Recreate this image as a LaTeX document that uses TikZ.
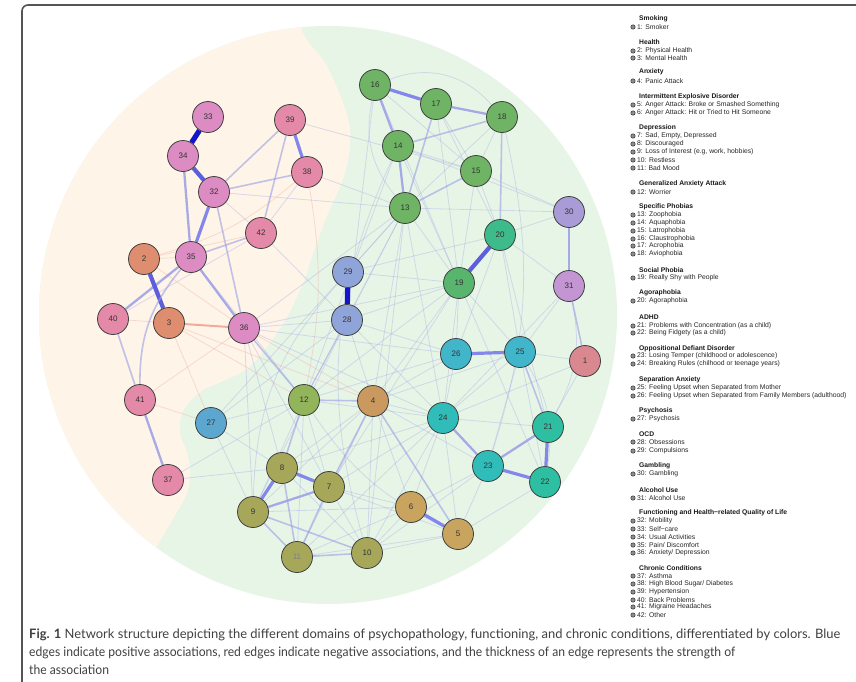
\documentclass[tikz,border=0pt]{standalone}
\usepackage{fontspec}
\setmainfont{Liberation Sans}
\newfontfamily\capfont{Lato}
\usepackage{graphicx}
\pgfdeclarelayer{bgzero}
\pgfdeclarelayer{edgelayer}
\pgfsetlayers{bgzero,edgelayer,main}
\definecolor{bgorange}{HTML}{FEF4E8}
\definecolor{bggreen}{HTML}{E7F5E7}
\definecolor{cfun}{HTML}{DC8CC2}
\definecolor{cchr}{HTML}{E48AA8}
\definecolor{chea}{HTML}{DE8E6E}
\definecolor{csmo}{HTML}{D98890}
\definecolor{canx}{HTML}{C9995F}
\definecolor{cied}{HTML}{C8A45E}
\definecolor{cdep}{HTML}{A7A75A}
\definecolor{cgad}{HTML}{92B45A}
\definecolor{cpho}{HTML}{6EB464}
\definecolor{csoc}{HTML}{58B56D}
\definecolor{cago}{HTML}{3EBB8A}
\definecolor{cadh}{HTML}{2EBEA2}
\definecolor{codd}{HTML}{30BDB9}
\definecolor{csep}{HTML}{41B5C9}
\definecolor{cpsy}{HTML}{5BA7D0}
\definecolor{cocd}{HTML}{8FA4D8}
\definecolor{cgam}{HTML}{A89BD6}
\definecolor{calc}{HTML}{C396D3}
\definecolor{eblue}{HTML}{9A9EE6}
\definecolor{eblued}{HTML}{5C5EDB}
\definecolor{ebluex}{HTML}{1414C8}
\definecolor{ered}{HTML}{EE9F92}
\definecolor{framec}{HTML}{555555}
\definecolor{captc}{HTML}{404040}
\newcommand\LegH[3]{\node[lhead] (#1) at (639,#2) {#3};}
\newcommand\LegI[3]{\node[lbul] (b#1) at (633,#2) {}; \node[litem] (t#1) at (637,#2) {#3};}
\newcommand\CapA{\textbf{Fig. 1} Network structure depicting the different domains of psychopathology, functioning, and chronic conditions, differentiated by colors. Blue}
\newcommand\CapB{edges indicate positive associations, red edges indicate negative associations, and the thickness of an edge represents the strength of}
\newcommand\CapC{the association}
\newcommand\CapFont{\capfont\fontsize{13}{15}\selectfont}
\newlength\capwa
\newlength\capwb
\begin{document}
\settowidth{\capwa}{\CapFont\CapA}
\settowidth{\capwb}{\CapFont\CapB}
\pgfmathsetmacro\capfa{811/\capwa}
\pgfmathsetmacro\capfb{706/\capwb}
\begin{tikzpicture}[x=1pt,y=-1pt,
  nd/.style={circle, draw=black!75, line width=0.8pt, minimum size=31pt, inner sep=0pt, font=\fontsize{8}{8}\selectfont, text=black!80},
  e1/.style={draw=eblue, line width=0.8pt, opacity=0.33},
  e2/.style={draw=eblue, line width=1.6pt, opacity=0.6},
  e3/.style={draw=eblue, line width=2.3pt, opacity=0.85},
  e4/.style={draw=eblue!85!blue, line width=3.2pt},
  e5/.style={draw=eblued, line width=4.2pt},
  e6/.style={draw=ebluex, line width=5.2pt},
  n1/.style={draw=ered, line width=0.8pt, opacity=0.33},
  n2/.style={draw=ered, line width=2pt, opacity=0.85},
  lhead/.style={anchor=west, inner sep=0pt, font=\fontsize{6.75}{7}\selectfont\bfseries, text=black!90},
  litem/.style={anchor=west, inner sep=0pt, font=\fontsize{6.8}{7}\selectfont, text=black!85},
  lbul/.style={circle, fill=black!45, draw=black!80, line width=0.5pt, minimum size=4.4pt, inner sep=0pt},
  capl/.style={anchor=base west, inner sep=0pt, text=captc, font=\CapFont}
]
\useasboundingbox (0,0) rectangle (856,681);
\begin{pgfonlayer}{bgzero}
\fill[white] (0,0) rectangle (856,681);
\fill[bggreen] (328,315) circle[radius=289];
\begin{scope}
\clip (328,315) circle[radius=289];
\fill[bgorange] plot[smooth, tension=0.6] coordinates {(298,-5) (303,33) (327,66) (347,115) (350,145) (343,179) (327,216) (313,254) (303,283) (287,317) (267,347) (247,369) (223,381) (200,392) (183,411) (180,433) (187,452) (190,470) (187,493) (173,519) (160,541) (150,562) (138,620)} -- (0,620) -- (0,-5) -- cycle;
\end{scope}
\end{pgfonlayer}
\draw[framec, line width=1.6pt, rounded corners=6pt] (860,5) -- (22,5) -- (22,685);

% nodes
\node[nd, fill=csmo] (n1) at (585,361) {1};
\node[nd, fill=chea] (n2) at (144,259) {2};
\node[nd, fill=chea] (n3) at (169,323) {3};
\node[nd, fill=canx] (n4) at (373,401) {4};
\node[nd, fill=cied] (n5) at (458,534) {5};
\node[nd, fill=cied] (n6) at (411,507) {6};
\node[nd, fill=cdep] (n7) at (329,487) {7};
\node[nd, fill=cdep] (n8) at (282,468) {8};
\node[nd, fill=cdep] (n9) at (253,512) {9};
\node[nd, fill=cdep] (n10) at (367,553) {10};
\node[nd, fill=cdep, text=black!50] (n11) at (297,557) {11};
\node[nd, fill=cgad] (n12) at (304,400) {12};
\node[nd, fill=cpho] (n13) at (405,208) {13};
\node[nd, fill=cpho] (n14) at (398,146) {14};
\node[nd, fill=cpho] (n15) at (476,171) {15};
\node[nd, fill=cpho] (n16) at (375,85) {16};
\node[nd, fill=cpho] (n17) at (436,104) {17};
\node[nd, fill=cpho] (n18) at (502,117) {18};
\node[nd, fill=csoc] (n19) at (459,283) {19};
\node[nd, fill=cago] (n20) at (500,235) {20};
\node[nd, fill=cadh] (n21) at (548,427) {21};
\node[nd, fill=cadh] (n22) at (545,482) {22};
\node[nd, fill=codd] (n23) at (488,466) {23};
\node[nd, fill=codd] (n24) at (443,418) {24};
\node[nd, fill=csep] (n25) at (520,352) {25};
\node[nd, fill=csep] (n26) at (456,354) {26};
\node[nd, fill=cpsy] (n27) at (211,423) {27};
\node[nd, fill=cocd] (n28) at (347,320) {28};
\node[nd, fill=cocd] (n29) at (348,272) {29};
\node[nd, fill=cgam] (n30) at (569,212) {30};
\node[nd, fill=calc] (n31) at (569,286) {31};
\node[nd, fill=cfun] (n32) at (214,192) {32};
\node[nd, fill=cfun] (n33) at (208,117) {33};
\node[nd, fill=cfun] (n34) at (183,156) {34};
\node[nd, fill=cfun] (n35) at (191,257) {35};
\node[nd, fill=cfun] (n36) at (244,328) {36};
\node[nd, fill=cchr] (n37) at (168,480) {37};
\node[nd, fill=cchr] (n38) at (307,172) {38};
\node[nd, fill=cchr] (n39) at (290,120) {39};
\node[nd, fill=cchr] (n40) at (113,319) {40};
\node[nd, fill=cchr] (n41) at (140,400) {41};
\node[nd, fill=cchr] (n42) at (261,233) {42};

\begin{pgfonlayer}{edgelayer}
% faint mesh
\foreach \a/\b in {16/15,17/15,14/15,17/20,15/20,13/19,14/30,13/30,31/24,1/24,26/24,19/22,19/26,12/9,12/7,12/11,7/10,4/6,6/10,27/13,27/12,28/12,28/19,4/24,4/19,12/13,7/24,5/23,5/24,6/24,10/4,19/24,19/25,13/28,20/25,20/21,21/1,39/15,36/28,36/9,36/26,37/12,37/8,38/42,32/42,40/42,12/26,13/24,14/19,29/13,28/26,8/4,9/4,11/4,10/24,7/19,12/19,15/19,15/30,18/15,18/13,16/19,20/26,23/25,22/25,24/25,21/24,5/22,6/23,10/5,11/6,8/10,12/28,36/13,36/19,36/24,35/12,42/28,38/13,32/13,4/26,4/25,27/8,27/9,9/28,11/24,10/23,7/6,1/25,30/20,31/20,31/25,29/19,28/4,36/7,36/8,13/10,14/12,17/19,16/28,29/20,28/24,12/24,8/24,9/6,11/5,7/5,4/23,27/28,13/4}
  \draw[e1] (n\a) -- (n\b);
\draw[e1] (n16) to[bend left=35] (n18);
\draw[e1] (n16) to[bend right=25] (n13);
\draw[e1] (n31) to[bend left=20] (n21);
\draw[e1] (n25) to[bend left=20] (n22);
\draw[e1] (n14) to[bend right=20] (n10);
\draw[e1] (n18) to[bend left=15] (n23);
\draw[e1] (n29) to[bend right=20] (n9);
\draw[e1] (n12) to[bend right=15] (n5);
% red faint
\foreach \a/\b in {2/35,2/42,41/27,3/12,3/4,36/4,2/36,40/3,3/27,41/36}
  \draw[n1] (n\a) -- (n\b);
\draw[n1] (n2) to[bend right=12] (n38);
\draw[n1] (n38) to[bend left=10] (n12);
% left cluster
\draw[e6] (n33) -- (n34);
\draw[e5] (n34) -- (n32);
\draw[e3] (n34) -- (n35);
\draw[e4] (n32) -- (n35);
\draw[e2] (n32) -- (n36);
\draw[e2] (n32) -- (n39);
\draw[e2] (n32) -- (n38);
\draw[e4] (n39) -- (n38);
\draw[e2] (n39) -- (n42);
\draw[e2] (n35) -- (n42);
\draw[e3] (n35) -- (n36);
\draw[e3] (n35) -- (n40);
\draw[e5] (n2) -- (n3);
\draw[n2] (n3) -- (n36);
\draw[e2] (n40) -- (n41);
\draw[e3] (n41) -- (n37);
\draw[e2] (n41) to[bend left=20] (n35);
\draw[e2] (n36) -- (n12);
% phobia cluster
\draw[e4] (n16) -- (n17);
\draw[e3] (n17) -- (n18);
\draw[e3] (n16) -- (n14);
\draw[e3] (n14) -- (n13);
\draw[e2] (n14) -- (n18);
\draw[e2] (n17) -- (n13);
\draw[e2] (n15) -- (n13);
\draw[e2] (n18) -- (n20);
\draw[e5] (n20) -- (n19);
\draw[e3] (n30) -- (n31);
\draw[e2] (n31) -- (n1);
\draw[e6] (n29) -- (n28);
% right cluster
\draw[e4] (n26) -- (n25);
\draw[e2] (n25) -- (n21);
\draw[e4] (n21) -- (n22);
\draw[e3] (n21) -- (n23);
\draw[e4] (n22) -- (n23);
\draw[e3] (n24) -- (n23);
% depression cluster
\draw[e2] (n12) -- (n4);
\draw[e2] (n12) -- (n8);
\draw[e4] (n8) -- (n7);
\draw[e4] (n8) -- (n9);
\draw[e3] (n9) -- (n7);
\draw[e2] (n9) -- (n11);
\draw[e2] (n9) -- (n10);
\draw[e2] (n8) -- (n11);
\draw[e2] (n7) -- (n11);
\draw[e2] (n11) -- (n10);
\draw[e2] (n7) -- (n4);
\draw[e2] (n4) -- (n5);
\draw[e4] (n6) -- (n5);
\end{pgfonlayer}

% legend
\LegH{h1}{19}{Smoking}
\LegI{1}{27}{1: Smoker}
\LegH{h2}{42}{Health}
\LegI{2}{51}{2: Physical Health}
\LegI{3}{58}{3: Mental Health}
\LegH{h3}{72}{Anxiety}
\LegI{4}{81}{4: Panic Attack}
\LegH{h4}{97}{Intermittent Explosive Disorder}
\LegI{5}{105}{5: Anger Attack: Broke or Smashed Something}
\LegI{6}{113}{6: Anger Attack: Hit or Tried to Hit Someone}
\LegH{h5}{128}{Depression}
\LegI{7}{136}{7: Sad, Empty, Depressed}
\LegI{8}{144}{8: Discouraged}
\LegI{9}{152}{9: Loss of Interest (e.g, work, hobbies)}
\LegI{10}{160}{10: Restless}
\LegI{11}{168}{11: Bad Mood}
\LegH{h6}{184}{Generalized Anxiety Attack}
\LegI{12}{192}{12: Worrier}
\LegH{h7}{207}{Specific Phobias}
\LegI{13}{215}{13: Zoophobia}
\LegI{14}{223}{14: Aquaphobia}
\LegI{15}{231}{15: Latrophobia}
\LegI{16}{239}{16: Claustrophobia}
\LegI{17}{246}{17: Acrophobia}
\LegI{18}{254}{18: Aviophobia}
\LegH{h8}{270}{Social Phobia}
\LegI{19}{278}{19: Really Shy with People}
\LegH{h9}{293}{Agoraphobia}
\LegI{20}{301}{20: Agoraphobia}
\LegH{h10}{317}{ADHD}
\LegI{21}{326}{21: Problems with Concentration (as a child)}
\LegI{22}{333}{22: Being Fidgety (as a child)}
\LegH{h11}{349}{Oppositional Defiant Disorder}
\LegI{23}{356}{23: Losing Temper (childhood or adolescence)}
\LegI{24}{364}{24: Breaking Rules (chilhood or teenage years)}
\LegH{h12}{380}{Separation Anxiety}
\LegI{25}{388}{25: Feeling Upset when Separated from Mother}
\LegI{26}{396}{26: Feeling Upset when Separated from Family Members (adulthood)}
\LegH{h13}{411}{Psychosis}
\LegI{27}{419}{27: Psychosis}
\LegH{h14}{434}{OCD}
\LegI{28}{442}{28: Obsessions}
\LegI{29}{451}{29: Compulsions}
\LegH{h15}{466}{Gambling}
\LegI{30}{474}{30: Gambling}
\LegH{h16}{490}{Alcohol Use}
\LegI{31}{498}{31: Alcohol Use}
\LegH{h17}{513}{Functioning and Health−related Quality of Life}
\LegI{32}{521}{32: Mobility}
\LegI{33}{529}{33: Self−care}
\LegI{34}{537}{34: Usual Activities}
\LegI{35}{545}{35: Pain/ Discomfort}
\LegI{36}{553}{36: Anxiety/ Depression}
\LegH{h18}{568}{Chronic Conditions}
\LegI{37}{576}{37: Asthma}
\LegI{38}{584}{38: High Blood Sugar/ Diabetes}
\LegI{39}{592}{39: Hypertension}
\LegI{40}{600}{40: Back Problems}
\LegI{41}{607}{41: Migraine Headaches}
\LegI{42}{615}{42: Other}

% caption
\node[capl] (c1) at (29,638) {\scalebox{\capfa}[1]{\CapA}};
\node[capl] (c2) at (29,656) {\scalebox{\capfb}[1]{\CapB}};
\node[capl] (c3) at (29,674) {\scalebox{\capfb}[1]{\CapC}};
\end{tikzpicture}
\end{document}
